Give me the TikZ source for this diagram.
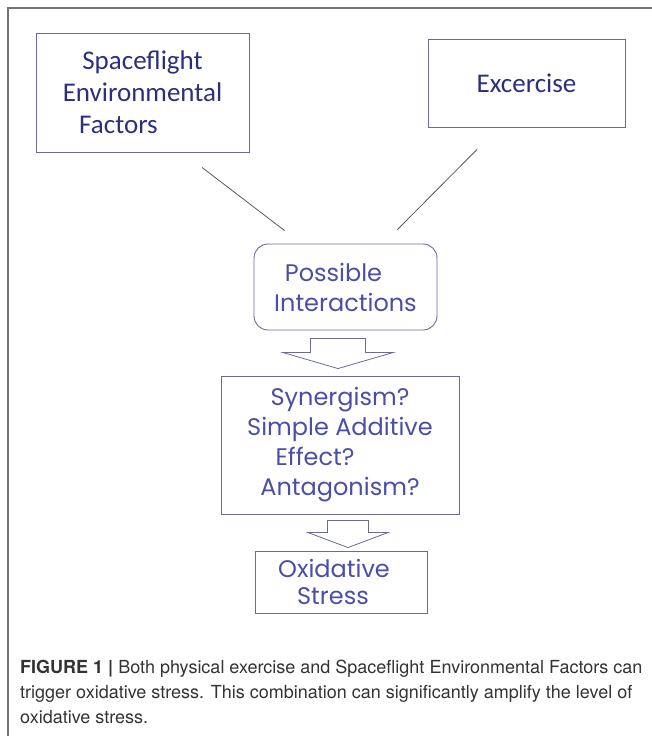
\documentclass[tikz,border=0pt]{standalone}
\usepackage{fontspec}
\usetikzlibrary{positioning,calc}
\newfontfamily\boxfont{Carlito}
\newfontfamily\roundfont{Poppins}
\newfontfamily\capfont{TeX Gyre Heros}
\definecolor{navy}{HTML}{2B2F7E}
\definecolor{lightnavy}{HTML}{4A4EA6}
\definecolor{boxline}{HTML}{6A6A98}
\definecolor{captext}{HTML}{333333}

\tikzset{
  topbox/.style={draw=boxline,line width=0.9pt,inner sep=0pt,text=navy,
    font=\boxfont\fontsize{27}{32}\selectfont,align=center},
  lowbox/.style={draw=boxline,line width=0.9pt,inner sep=0pt,text=lightnavy,
    font=\roundfont\fontsize{24}{30}\selectfont,align=center},
  link/.style={draw=black!65,line width=0.8pt},
  blockarrow/.style={draw=boxline,line width=0.8pt,fill=white,line join=miter},
  frame/.style={draw=black!55,line width=1.3pt}
}

\begin{document}
\begin{tikzpicture}[x=1pt,y=-1pt]
    \useasboundingbox (0,0) rectangle (652,736);
    \draw[frame] (652,8) -- (8,8) -- (8,736);

    \node[topbox,minimum width=213,minimum height=119] (SEF) at (142.5,92.5)
        {Spaceflight\\Environmental\\Factors\hspace*{48pt}};
    \node[topbox,minimum width=197,minimum height=88] (EXC) at (526.5,83)
        {Excercise};
    \node[lowbox,rounded corners=14pt,minimum width=183,minimum height=86] (POSS) at (345.5,287)
        {Possible\hspace*{24pt}\\Interactions};
    \node[lowbox,minimum width=238,minimum height=138] (SYN) at (340,445)
        {Synergism?\\Simple Additive\\Effect?\hspace*{50pt}\mbox{}\\Antagonism?};
    \node[lowbox,font=\roundfont\fontsize{24}{27}\selectfont,
        minimum width=172,minimum height=62] (OXI) at (341,582)
        {Oxidative\hspace*{14pt}\\Stress\hspace*{16pt}};

    \coordinate (TIP1) at ($(SYN.north)+(-2,-7)$);
    \coordinate (TIP2) at ($(OXI.north)+(7,-3)$);

    \path[link] ($(SEF.south)+(59.5,15)$) -- ($(POSS.north west)+(31,-13)$);
    \path[link] ($(EXC.south)+(-49.5,22)$) -- ($(POSS.north east)+(-40,-14)$);

    \draw[blockarrow] (TIP1) -- ++(-55,-16) -- ++(27.5,0) -- ++(0,-14) -- ++(55,0)
        -- ++(0,14) -- ++(27.5,0) -- cycle;
    \draw[blockarrow] (TIP2) -- ++(-40,-15) -- ++(19.5,0) -- ++(0,-12) -- ++(41,0)
        -- ++(0,12) -- ++(19.5,0) -- cycle;

    \node[anchor=north west,inner sep=0pt,align=left,text=captext,
        font=\capfont\fontsize{18}{25}\selectfont] (CAP) at (20,660)
        {\textbf{FIGURE 1 |} Both physical exercise and Spaceflight Environmental Factors can\\
         trigger oxidative stress. This combination can significantly amplify the level of\\
         oxidative stress.};
\end{tikzpicture}
\end{document}
